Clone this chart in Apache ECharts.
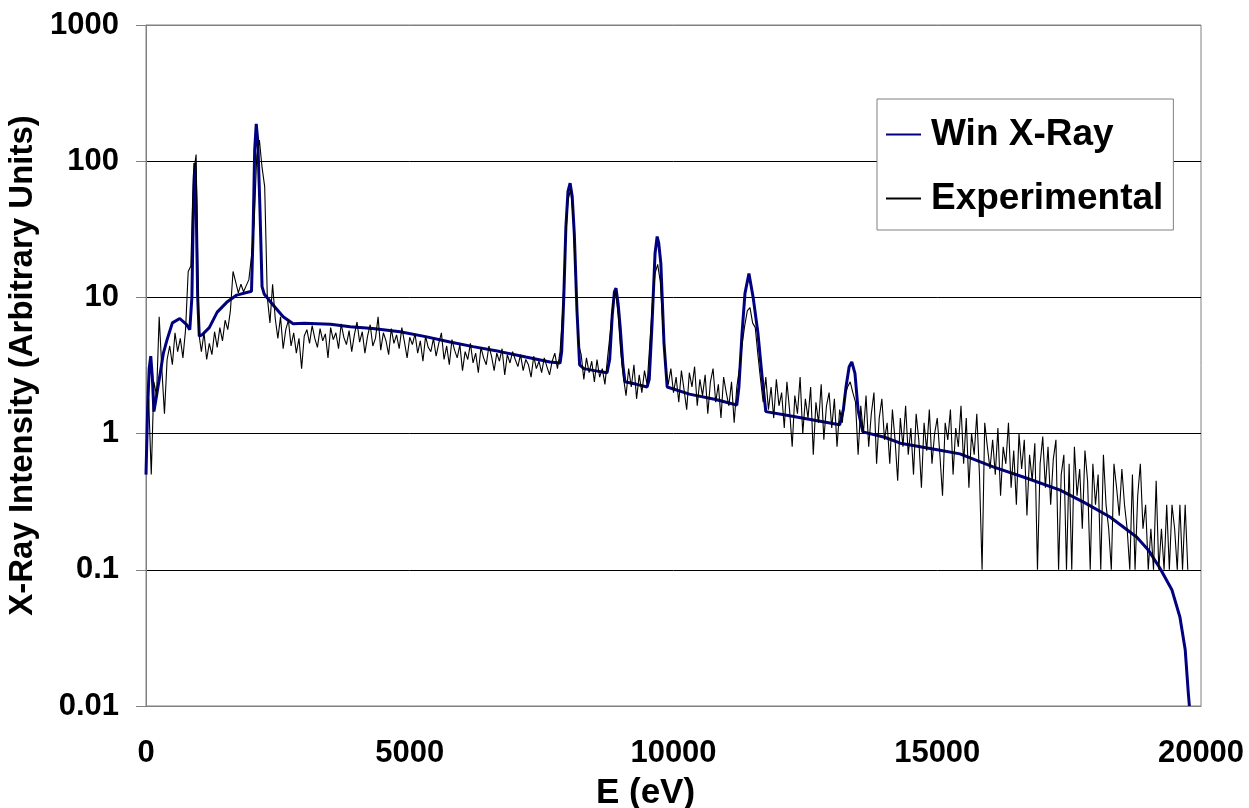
<!DOCTYPE html>
<html>
<head>
<meta charset="utf-8">
<script src="https://cdn.jsdelivr.net/npm/echarts@6/dist/echarts.min.js"></script>
<style>
  html, body { margin: 0; padding: 0; background: #fff; }
  #chart { width: 1249px; height: 808px; }
</style>
</head>
<body>
<div id="chart"></div>
<script>
// tick labels of the log axis, from 0.01 up to 1000
const yTickLabels = ['0.01', '0.1', '1', '10', '100', '1000'];

// simulated spectrum (Win X-Ray): [E (eV), intensity]
const winXRay = [
  [0, 0.5], [30, 1.5], [60, 3.0], [90, 3.7], [120, 2.6], [150, 1.45], [200, 1.9], [265, 2.7],
  [330, 3.9], [400, 4.9], [500, 6.5], [640, 7.0], [770, 6.3], [830, 5.8], [870, 10], [900, 50],
  [925, 97], [950, 50], [980, 10], [1010, 5.2], [1060, 5.3], [1200, 6.0], [1350, 7.8], [1530, 9.2],
  [1720, 10.4], [2000, 11.1], [2030, 30], [2060, 120], [2090, 188], [2120, 140], [2160, 45], [2200, 12],
  [2240, 10.6], [2410, 8.8], [2600, 7.2], [2790, 6.4], [3000, 6.45], [3500, 6.35], [3870, 6.1], [4300, 5.9],
  [4815, 5.6], [5300, 5.15], [5763, 4.7], [6200, 4.35], [6711, 4.0], [7200, 3.65], [7659, 3.36], [7850, 3.3],
  [7880, 4.0], [7920, 10], [7960, 33], [8000, 60], [8040, 69], [8080, 55], [8120, 29], [8170, 8],
  [8220, 3.2], [8300, 3.0], [8500, 2.9], [8740, 2.8], [8790, 3.5], [8840, 7.5], [8880, 11], [8910, 11.7],
  [8950, 9], [8990, 6], [9040, 3.2], [9080, 2.4], [9300, 2.3], [9500, 2.2], [9540, 2.5], [9590, 6],
  [9650, 21], [9690, 28], [9720, 25], [9760, 17.8], [9820, 4.6], [9880, 2.2], [10300, 1.95], [10800, 1.78],
  [11200, 1.62], [11240, 2.2], [11300, 5.5], [11355, 10.7], [11430, 15], [11510, 10], [11600, 5.5], [11680, 2.6],
  [11750, 1.45], [12200, 1.35], [12700, 1.25], [13150, 1.16], [13220, 1.5], [13270, 2.2], [13330, 3.1], [13380, 3.36],
  [13440, 2.77], [13500, 1.48], [13590, 1.03], [14000, 0.94], [14300, 0.85], [15000, 0.76], [15430, 0.71], [16060, 0.57],
  [16700, 0.47], [17330, 0.385], [17800, 0.31], [18275, 0.244], [18780, 0.174], [19000, 0.14], [19220, 0.103], [19450, 0.071],
  [19600, 0.045], [19700, 0.026], [19760, 0.0124], [19780, 0.01]
];

// measured spectrum, one channel every 50 eV starting at 50 eV
const expStartE = 50;
const expStepE = 50;
const experimental = [
  1.8, 0.5, 2.4, 1.9, 7.2, 3.0, 1.4, 3.5, 4.4, 3.2, 5.5, 4.0, 5.0, 3.6, 5.8, 15.5, 17, 80, 112, 5.5,
  4.0, 5.5, 3.5, 4.6, 3.8, 5.6, 4.3, 6.0, 4.8, 6.8, 5.8, 8.0, 15.5, 13.0, 10.8, 12.5, 11.0, 12.2, 13.5, 20,
  35, 110, 143, 90, 65, 10, 6.5, 12.5, 7.0, 5.0, 7.2, 4.2, 5.8, 6.8, 4.4, 5.5, 3.9, 5.0, 3.0, 5.2,
  5.8, 4.6, 6.2, 5.0, 4.3, 5.9, 4.8, 5.4, 3.6, 6.0, 4.9, 5.5, 4.2, 6.4, 5.1, 4.5, 5.7, 4.0, 5.3, 6.6,
  4.7, 5.6, 3.9, 5.2, 6.3, 4.4, 5.0, 7.2, 4.1, 5.5, 4.8, 3.8, 5.9, 4.6, 5.3, 4.2, 6.0, 4.7, 3.6, 5.1,
  4.5, 5.4, 3.9, 4.8, 3.4, 5.2, 4.3, 4.0, 5.0, 3.7, 4.6, 5.5, 3.5, 4.4, 3.2, 4.9, 4.1, 3.6, 4.5, 2.9,
  4.0, 3.5, 4.6, 3.3, 3.9, 2.8, 4.3, 3.6, 3.2, 4.4, 3.7, 2.9, 3.9, 3.4, 4.2, 2.7, 3.8, 3.3, 4.0, 3.5,
  3.1, 3.8, 2.9, 3.5, 3.2, 2.6, 3.7, 3.0, 3.4, 2.8, 3.6, 3.1, 2.7, 3.4, 3.9, 3.0, 4.0, 8, 25, 52,
  62, 38, 12, 4.5, 3.8, 2.5, 3.6, 2.8, 3.4, 2.4, 3.5, 2.6, 3.0, 2.3, 3.6, 5.5, 9, 11.3, 7.5, 4.0,
  2.6, 1.9, 3.0, 2.2, 3.2, 1.8, 2.7, 2.0, 2.9, 2.3, 4.5, 9, 15, 17.5, 13, 6, 3.0, 2.3, 3.0, 2.0,
  2.6, 1.7, 2.9, 2.1, 1.5, 2.8, 2.2, 3.1, 1.6, 2.5, 1.9, 2.7, 1.4, 2.4, 3.0, 1.7, 2.3, 1.3, 2.6, 2.0,
  1.6, 2.4, 1.2, 2.2, 3.0, 4.5, 6.2, 8.0, 8.4, 6.5, 6.0, 3.8, 2.5, 1.7, 2.6, 1.5, 2.2, 1.3, 2.5, 1.6,
  2.0, 1.1, 2.4, 1.5, 0.8, 1.9, 1.4, 2.6, 1.0, 1.8, 1.3, 2.2, 0.7, 1.7, 1.2, 2.3, 0.9, 1.6, 2.0, 1.1,
  1.8, 0.8, 1.5, 1.2, 1.9, 2.2, 2.4, 2.0, 1.7, 0.7, 1.6, 1.0, 1.9, 0.8, 1.4, 2.0, 0.6, 1.3, 1.8, 0.9,
  1.2, 0.6, 1.5, 0.9, 0.45, 1.3, 0.8, 1.6, 0.7, 1.1, 0.5, 1.4, 0.9, 0.4, 1.2, 0.75, 1.5, 0.6, 1.0, 1.3,
  0.7, 0.35, 1.2, 0.9, 1.5, 0.5, 1.1, 0.8, 1.6, 0.6, 1.3, 0.4, 1.0, 0.7, 1.4, 0.5, 0.1, 1.2, 0.8, 0.55,
  0.9, 0.5, 1.1, 0.35, 0.8, 0.6, 1.2, 0.4, 0.75, 0.3, 1.0, 0.55, 0.9, 0.25, 0.7, 0.45, 0.85, 0.1, 0.6, 0.95,
  0.4, 0.8, 0.3, 0.65, 0.9, 0.1, 0.5, 0.7, 0.1, 0.6, 0.1, 0.8, 0.35, 0.55, 0.2, 0.75, 0.45, 0.1, 0.6, 0.3,
  0.5, 0.1, 0.7, 0.3, 0.2, 0.1, 0.6, 0.4, 0.25, 0.55, 0.3, 0.2, 0.1, 0.5, 0.1, 0.35, 0.6, 0.2, 0.3, 0.1,
  0.2, 0.1, 0.45, 0.1, 0.2, 0.1, 0.3, 0.1, 0.3, 0.2, 0.1, 0.3, 0.1, 0.3, 0.1
];

const font = '"Liberation Sans", Arial, sans-serif';
const chart = echarts.init(document.getElementById('chart'));

const expData = experimental.map((v, i) => [expStartE + i * expStepE, v]);

const options = {
  backgroundColor: '#fff',
  animation: false,
  textStyle: { fontFamily: font },
  grid: {
    left: 146, right: 48, top: 25, bottom: 102,
    outerBoundsMode: 'none',
    containLabel: false,
    show: true, borderColor: '#808080', borderWidth: 1, backgroundColor: 'transparent'
  },
  legend: {
    show: true,
    left: 877,
    top: 99,
    orient: 'vertical',
    selectedMode: false,
    backgroundColor: '#fff',
    borderColor: '#808080',
    borderWidth: 1,
    padding: [17, 10, 13, 8],
    itemGap: 27,
    itemWidth: 35,
    itemHeight: 20,
    itemStyle: { color: 'transparent', borderColor: 'transparent', borderWidth: 0, opacity: 0 },
    textStyle: {
      fontSize: 37, fontWeight: 'bold', color: '#000', fontFamily: font,
      padding: [0, 0, 0, 5]
    },
    data: ['Win X-Ray', 'Experimental']
  },
  xAxis: {
    type: 'value',
    min: 0,
    max: 20000,
    interval: 5000,
    name: 'E (eV)',
    nameLocation: 'middle',
    nameGap: 70,
    nameTextStyle: {
      fontSize: 35, fontWeight: 'bold', color: '#000', fontFamily: font,
      padding: [0, 56, 0, 0]
    },
    axisLine: { show: true, lineStyle: { color: '#808080', width: 1 } },
    axisTick: { show: false },
    splitLine: { show: false },
    axisLabel: {
      fontSize: 31, fontWeight: 'bold', color: '#000', margin: 32, fontFamily: font,
      formatter: v => String(v)
    }
  },
  yAxis: {
    type: 'log',
    logBase: 10,
    min: 0.01,
    max: 1000,
    name: 'X-Ray Intensity (Arbitrary Units)',
    nameLocation: 'middle',
    nameGap: 94,
    nameTextStyle: { fontSize: 33, fontWeight: 'bold', color: '#000', fontFamily: font },
    axisLine: { show: true, lineStyle: { color: '#808080', width: 1 } },
    axisTick: { show: true, length: 10, lineStyle: { color: '#808080' } },
    splitLine: {
      show: true,
      lineStyle: { color: ['#808080', '#000', '#000', '#000', '#000', '#808080'], width: 1 }
    },
    axisLabel: {
      fontSize: 31, fontWeight: 'bold', color: '#000', margin: 27, fontFamily: font,
      formatter: v => yTickLabels[Math.round(Math.log10(v)) + 2]
    }
  },
  series: [
    {
      name: 'Win X-Ray',
      type: 'line',
      data: winXRay,
      showSymbol: false,
      symbol: 'none',
      lineStyle: { color: '#000080', width: 3 },
      itemStyle: { color: '#000080' },
      z: 2
    },
    {
      name: 'Experimental',
      type: 'line',
      data: expData,
      showSymbol: false,
      symbol: 'none',
      lineStyle: { color: '#000', width: 1.1 },
      itemStyle: { color: '#000' },
      z: 3
    }
  ]
};

chart.setOption(options);
</script>
</body>
</html>
